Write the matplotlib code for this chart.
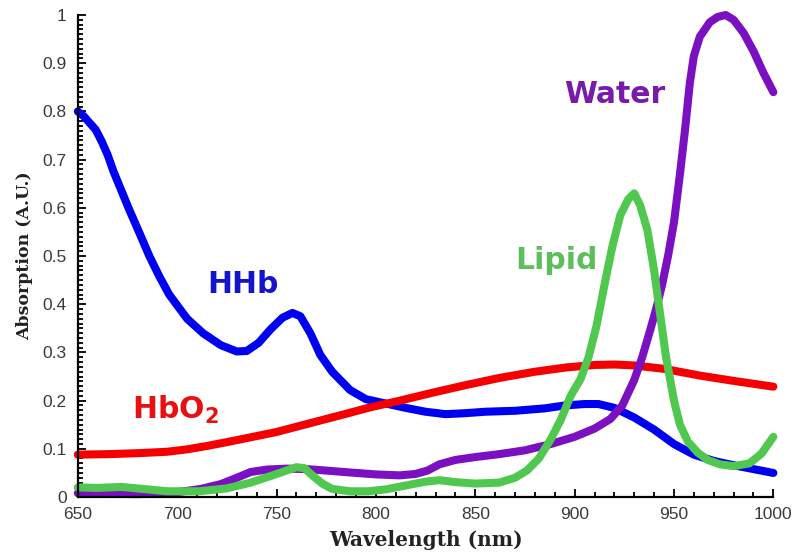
import numpy as np
import matplotlib.pyplot as plt
from matplotlib.ticker import MultipleLocator

# absorption spectra (normalised), read per chromophore
hhb_wl = [650, 653, 656, 659, 662, 665, 668, 672, 676, 681, 686, 691, 696, 705, 713, 722,
          730, 735, 741, 747, 753, 758, 762, 767, 772, 778, 787, 795, 805, 815, 825, 835,
          845, 855, 870, 885, 895, 905, 912, 920, 930, 940, 950, 960, 970, 980, 990, 1000]
hhb_abs = [0.80, 0.79, 0.776, 0.762, 0.738, 0.71, 0.675, 0.635, 0.595, 0.548, 0.50, 0.458,
           0.42, 0.37, 0.34, 0.315, 0.302, 0.303, 0.32, 0.348, 0.372, 0.382, 0.375, 0.34,
           0.295, 0.26, 0.222, 0.203, 0.194, 0.185, 0.177, 0.172, 0.174, 0.177, 0.179,
           0.184, 0.19, 0.193, 0.193, 0.185, 0.165, 0.14, 0.11, 0.088, 0.075, 0.066, 0.058,
           0.05]

hbo2_wl = [650, 665, 680, 695, 705, 715, 725, 737, 750, 762, 775, 787, 797, 812, 829, 846,
           862, 880, 896, 910, 920, 930, 945, 963, 980, 1000]
hbo2_abs = [0.088, 0.089, 0.091, 0.094, 0.099, 0.106, 0.114, 0.124, 0.135, 0.148, 0.162,
            0.175, 0.186, 0.2, 0.217, 0.233, 0.247, 0.26, 0.269, 0.274, 0.275, 0.273, 0.266,
            0.252, 0.241, 0.229]

water_wl = [650, 665, 680, 700, 712, 722, 730, 737, 745, 755, 765, 775, 787, 800, 812, 820,
            826, 832, 840, 850, 862, 875, 888, 900, 910, 918, 924, 930, 934, 938, 941, 944,
            947, 950, 953, 955.5, 958, 960, 963, 968, 972, 976, 980, 985, 990, 995, 1000]
water_abs = [0.008, 0.007, 0.006, 0.01, 0.017, 0.027, 0.04, 0.052, 0.057, 0.059, 0.058,
             0.055, 0.051, 0.047, 0.045, 0.048, 0.055, 0.068, 0.077, 0.083, 0.089, 0.097,
             0.11, 0.125, 0.142, 0.162, 0.19, 0.243, 0.29, 0.346, 0.39, 0.44, 0.50, 0.57,
             0.67, 0.76, 0.86, 0.915, 0.955, 0.985, 0.996, 1.0, 0.99, 0.963, 0.925, 0.88,
             0.84]

lipid_wl = [650, 660, 672, 685, 695, 711, 725, 737, 748, 755, 760, 764, 768, 773, 778, 787,
            796, 805, 815, 825, 832, 840, 850, 862, 870, 876, 882, 888, 893, 898, 903, 907,
            911, 915, 919, 923, 927, 930, 933, 936.6, 940, 943, 946, 950, 953, 957, 962, 967,
            973, 980, 988, 994, 1000]
lipid_abs = [0.02, 0.019, 0.021, 0.016, 0.012, 0.012, 0.018, 0.03, 0.045, 0.055, 0.062,
             0.06, 0.045, 0.028, 0.017, 0.012, 0.012, 0.016, 0.024, 0.032, 0.035, 0.031,
             0.028, 0.03, 0.04, 0.055, 0.08, 0.12, 0.16, 0.21, 0.245, 0.29, 0.355, 0.44,
             0.52, 0.585, 0.618, 0.63, 0.605, 0.554, 0.47, 0.38, 0.29, 0.2, 0.15, 0.115,
             0.092, 0.077, 0.068, 0.064, 0.07, 0.09, 0.125]

xticks = [650, 700, 750, 800, 850, 900, 950, 1000]
yticks = [0, 0.1, 0.2, 0.3, 0.4, 0.5, 0.6, 0.7, 0.8, 0.9, 1]
ytick_labels = ['0', '0.1', '0.2', '0.3', '0.4', '0.5', '0.6', '0.7', '0.8', '0.9', '1']

plt.rcParams['mathtext.fontset'] = 'custom'
plt.rcParams['mathtext.bf'] = 'DejaVu Sans:bold'

fig = plt.figure(figsize=(7.94, 5.56), dpi=100)
ax = fig.add_axes([0.098, 0.106, 0.876, 0.867])

style = dict(lw=5.8, solid_capstyle='round', solid_joinstyle='round', clip_on=False)
ax.plot(hhb_wl, hhb_abs, color='#0000f0', **style)
ax.plot(hbo2_wl, hbo2_abs, color='#f50000', **style)
ax.plot(water_wl, water_abs, color='#7a10c0', **style)
ax.plot(lipid_wl, lipid_abs, color='#50c850', **style)

lab = dict(fontsize=21.5, fontweight='bold', family='DejaVu Sans', ha='center', va='center')
ax.text(733, 0.44, 'HHb', color='#1414cc', **lab)
ax.text(699, 0.18, r'HbO$_\mathbf{2}$', color='#e81010', **lab)
ax.text(920, 0.835, 'Water', color='#7a1aa8', **lab)
ax.text(891, 0.49, 'Lipid', color='#5cbf5c', **lab)

ax.set_xlim(650, 1000)
ax.set_ylim(0, 1)
ax.set_xticks(xticks)
ax.set_yticks(yticks)
ax.set_yticklabels(ytick_labels)
ax.xaxis.set_minor_locator(MultipleLocator(10))
ax.yaxis.set_minor_locator(MultipleLocator(0.01))
ax.tick_params(which='both', direction='in', width=1.4, colors='#111111',
               labelcolor='#3a3a3a', labelsize=12.5)
ax.tick_params(which='major', length=6)
ax.tick_params(which='minor', length=3.5)
ax.tick_params(axis='x', which='major', pad=7)
ax.tick_params(axis='y', which='major', pad=8)
for lbl in ax.get_xticklabels() + ax.get_yticklabels():
    lbl.set_family('Liberation Sans')

for side in ['top', 'right']:
    ax.spines[side].set_visible(False)
for side in ['left', 'bottom']:
    ax.spines[side].set_linewidth(1.6)

ax.set_xlabel('Wavelength (nm)', family='DejaVu Serif', fontweight='bold',
              fontsize=14.5, color='#222222', labelpad=6)
ax.set_ylabel('Absorption (A.U.)', family='DejaVu Serif', fontweight='bold',
              fontsize=12.5, color='#222222', labelpad=7)

fig.savefig('out.png', dpi=100)
